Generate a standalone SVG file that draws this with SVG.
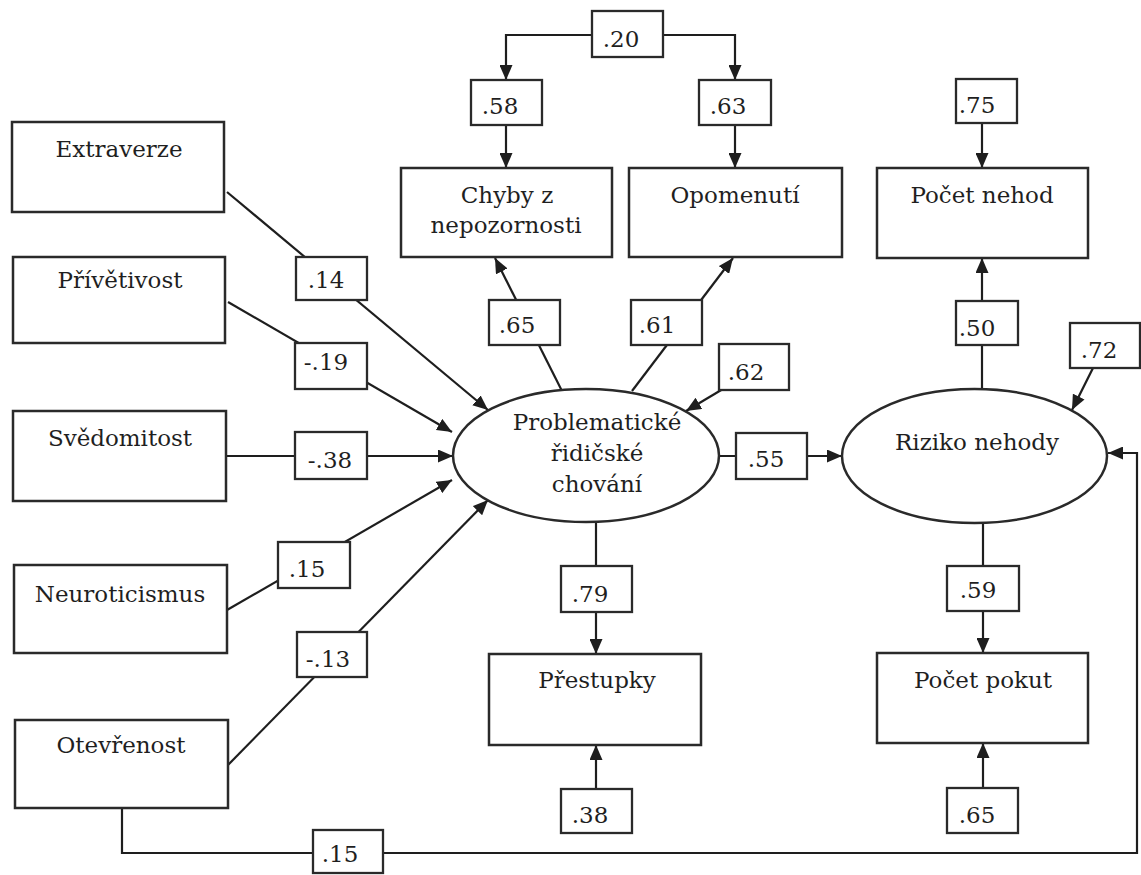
<svg xmlns="http://www.w3.org/2000/svg" width="1141" height="875" viewBox="0 0 1141 875">
<style>
.bg{fill:#ffffff}
.box{fill:#ffffff;stroke:#2a2a2a;stroke-width:2.5}
.lbl{fill:#ffffff;stroke:#2a2a2a;stroke-width:2.3}
.ell{fill:#ffffff;stroke:#2a2a2a;stroke-width:2.5}
.t{font-family:"DejaVu Serif","Liberation Serif",serif;font-size:23px;fill:#1f1f1f;text-anchor:middle}
.n{font-family:"DejaVu Serif","Liberation Serif",serif;font-size:23px;fill:#1f1f1f;text-anchor:middle}
.c{fill:none;stroke:#1e1e1e;stroke-width:2.2}
.a{marker-end:url(#ah)}
</style>
<defs>
<marker id="ah" markerUnits="userSpaceOnUse" markerWidth="15" markerHeight="13" refX="15" refY="6.5" orient="auto">
<path d="M0,0 L15,6.5 L0,13 z" fill="#1e1e1e"/>
</marker>
</defs>
<rect class="bg" x="0" y="0" width="1141" height="875"/>
<g id="connectors">
<path class="c a" d="M592,35 H506 V80"/>
<path class="c a" d="M663,35 H735 V80"/>
<path class="c a" d="M506,125 V168"/>
<path class="c a" d="M735,125 V168"/>
<path class="c a" d="M982,123 V168"/>
<path class="c a" d="M982,389 V258"/>
<path class="c a" d="M1093,368 L1072,410"/>
<path class="c a" d="M562,391 L495,258"/>
<path class="c a" d="M632,391 L733,258"/>
<path class="c a" d="M733,383 L686,411"/>
<path class="c a" d="M227,192 L488,410"/>
<path class="c a" d="M228,302 L452,432"/>
<path class="c a" d="M226,456 L453,456"/>
<path class="c a" d="M227,610 L452,480"/>
<path class="c a" d="M228,765 L488,500"/>
<path class="c a" d="M719,456 L842,456"/>
<path class="c a" d="M596,522 V654"/>
<path class="c a" d="M596,789 V745"/>
<path class="c a" d="M983,523 V653"/>
<path class="c a" d="M983,788 V743"/>
<path class="c a" d="M122,808 V853 H1137 V453 H1108"/>
</g>
<g id="extraverze"><rect class="box" x="12" y="122" width="212" height="90"/><text class="t" x="119" y="157">Extraverze</text></g>
<g id="privetivost"><rect class="box" x="13" y="257" width="212" height="86"/><text class="t" x="120" y="288">Přívětivost</text></g>
<g id="svedomitost"><rect class="box" x="13" y="411" width="213" height="90"/><text class="t" x="120" y="446">Svědomitost</text></g>
<g id="neuroticismus"><rect class="box" x="14" y="565" width="213" height="88"/><text class="t" x="120" y="602">Neuroticismus</text></g>
<g id="otevrenost"><rect class="box" x="15" y="720" width="213" height="88"/><text class="t" x="121" y="753">Otevřenost</text></g>
<g id="chyby"><rect class="box" x="401" y="168" width="211" height="89"/><text class="t" x="507" y="203">Chyby z</text><text class="t" x="506" y="233">nepozornosti</text></g>
<g id="opomenuti"><rect class="box" x="629" y="168" width="213" height="89"/><text class="t" x="735" y="203">Opomenutí</text></g>
<g id="pocet-nehod"><rect class="box" x="877" y="168" width="211" height="90"/><text class="t" x="982" y="203">Počet nehod</text></g>
<g id="problematicke"><ellipse class="ell" cx="586" cy="455.5" rx="133" ry="66.5"/><text class="t" x="597" y="430">Problematické</text><text class="t" x="597" y="461">řidičské</text><text class="t" x="597" y="492">chování</text></g>
<g id="riziko"><ellipse class="ell" cx="974.5" cy="456" rx="132.5" ry="67"/><text class="t" x="977" y="450">Riziko nehody</text></g>
<g id="prestupky"><rect class="box" x="489" y="654" width="212" height="91"/><text class="t" x="597" y="688">Přestupky</text></g>
<g id="pocet-pokut"><rect class="box" x="877" y="653" width="211" height="90"/><text class="t" x="983" y="688">Počet pokut</text></g>
<g id="c20"><rect class="lbl" x="592" y="11" width="71" height="46"/><text class="n" x="621" y="47">.20</text></g>
<g id="c58"><rect class="lbl" x="471" y="80" width="71" height="45"/><text class="n" x="500" y="114">.58</text></g>
<g id="c63"><rect class="lbl" x="699" y="80" width="72" height="45"/><text class="n" x="728" y="114">.63</text></g>
<g id="c75"><rect class="lbl" x="956" y="79" width="61" height="44"/><text class="n" x="977" y="113">.75</text></g>
<g id="c14"><rect class="lbl" x="296" y="257" width="71" height="43"/><text class="n" x="326" y="288">.14</text></g>
<g id="c19"><rect class="lbl" x="295" y="343" width="72" height="46"/><text class="n" x="326" y="370">-.19</text></g>
<g id="c38a"><rect class="lbl" x="295" y="432" width="72" height="47"/><text class="n" x="330" y="468">-.38</text></g>
<g id="c15a"><rect class="lbl" x="278" y="542" width="72" height="46"/><text class="n" x="307" y="577">.15</text></g>
<g id="c13"><rect class="lbl" x="297" y="632" width="70" height="45"/><text class="n" x="328" y="667">-.13</text></g>
<g id="c15b"><rect class="lbl" x="313" y="830" width="70" height="43"/><text class="n" x="340" y="862">.15</text></g>
<g id="c65a"><rect class="lbl" x="489" y="300" width="71" height="45"/><text class="n" x="517" y="333">.65</text></g>
<g id="c61"><rect class="lbl" x="631" y="300" width="71" height="45"/><text class="n" x="657" y="333">.61</text></g>
<g id="c62"><rect class="lbl" x="719" y="344" width="70" height="46"/><text class="n" x="746" y="380">.62</text></g>
<g id="c55"><rect class="lbl" x="736" y="433" width="71" height="46"/><text class="n" x="766" y="467">.55</text></g>
<g id="c50"><rect class="lbl" x="956" y="301" width="62" height="44"/><text class="n" x="977" y="336">.50</text></g>
<g id="c72"><rect class="lbl" x="1070" y="323" width="70" height="45"/><text class="n" x="1099" y="358">.72</text></g>
<g id="c79"><rect class="lbl" x="561" y="566" width="71" height="46"/><text class="n" x="590" y="602">.79</text></g>
<g id="c38b"><rect class="lbl" x="561" y="789" width="71" height="44"/><text class="n" x="590" y="823">.38</text></g>
<g id="c59"><rect class="lbl" x="947" y="566" width="72" height="45"/><text class="n" x="978" y="598">.59</text></g>
<g id="c65b"><rect class="lbl" x="947" y="788" width="71" height="45"/><text class="n" x="977" y="823">.65</text></g>
</svg>
